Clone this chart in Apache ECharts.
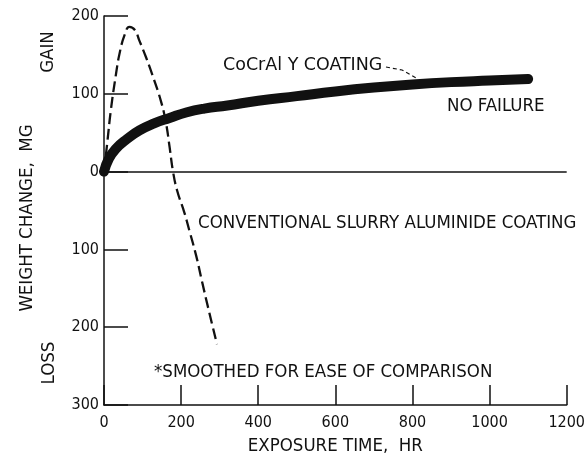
<!DOCTYPE html>
<html>
<head>
<meta charset="utf-8">
<script src="https://cdn.jsdelivr.net/npm/echarts@6/dist/echarts.min.js"></script>
<style>
html,body{margin:0;padding:0;background:#fff;}
#c{width:588px;height:463px;}
</style>
</head>
<body>
<div id="c"></div>
<script>
var xTicks = [0, 200, 400, 600, 800, 1000, 1200];
var yTicks = [-300, -200, -100, 0, 100, 200];

// CoCrAlY coating (exposure time hr, weight change mg)
var cocralyX = [0, 12, 30, 60, 92, 130, 170, 213, 260, 320, 400, 500, 600, 700, 800, 900, 1000, 1100];
var cocralyY = [0, 16, 29, 42, 53, 62, 69, 76, 81, 85, 91, 97, 103, 108, 112, 115, 117, 119];

// Conventional slurry aluminide coating
var slurryX = [0, 8, 18, 31, 40, 53, 66, 80, 92, 109, 125, 148, 161, 170, 179, 190, 208, 221, 239, 255, 273, 293];
var slurryY = [0, 35, 80, 125, 151, 175, 186, 182, 168, 147, 125, 90, 62, 32, 0, -25, -52, -75, -108, -143, -181, -222];

function pairs(xs, ys){ return xs.map(function(x,i){ return [x, ys[i]]; }); }

var FONT = "'Liberation Sans Narrow', 'DejaVu Sans Condensed', 'Liberation Sans', sans-serif";
var TF = '18.5px ' + FONT;
var chart = echarts.init(document.getElementById('c'), null, {renderer:'canvas'});
chart.setOption({
  animation: false,
  backgroundColor: '#fff',
  grid: {left: 104, right: 19, top: 16, bottom: 58, containLabel: false},
  xAxis: {
    type: 'value', min: xTicks[0], max: xTicks[xTicks.length-1], interval: 200,
    name: 'EXPOSURE TIME,  HR', nameLocation: 'middle', nameGap: 32,
    nameTextStyle: {fontFamily: FONT, fontSize: 18.5, color: '#111'},
    axisLine: {show: true, onZero: false, lineStyle: {color: '#111', width: 1.5}},
    axisTick: {show: true, inside: true, length: 20, lineStyle: {color: '#111', width: 1.5}},
    axisLabel: {fontFamily: FONT, fontSize: 16, color: '#111', margin: 10,
      formatter: function(v){ return String(v); }},
    splitLine: {show: false}
  },
  yAxis: {
    type: 'value', min: yTicks[0], max: yTicks[yTicks.length-1], interval: 100,
    axisLine: {show: true, onZero: false, lineStyle: {color: '#111', width: 1.5}},
    axisTick: {show: true, inside: true, length: 24, lineStyle: {color: '#111', width: 1.5}},
    axisLabel: {fontFamily: FONT, fontSize: 16, color: '#111', margin: 5,
      formatter: function(v){ return String(Math.abs(v)); }},
    splitLine: {show: false}
  },
  series: [
    {
      type: 'line', data: pairs(cocralyX, cocralyY), smooth: 0.5, symbol: 'none',
      lineStyle: {color: '#111', width: 10, cap: 'round', join: 'round'},
      markLine: {
        silent: true, symbol: 'none', label: {show: false},
        lineStyle: {color: '#111', width: 1.5, type: 'solid'},
        data: [{yAxis: 0}]
      }
    },
    {
      type: 'line', data: pairs(slurryX, slurryY), smooth: 0.45, symbol: 'none',
      lineStyle: {color: '#111', width: 2.3, type: [11, 5]}
    }
  ],
  graphic: [
    {type: 'text', x: 27, y: 218, rotation: Math.PI/2,
      style: {text: 'WEIGHT CHANGE,  MG', font: '18.5px ' + FONT, fill: '#111', align: 'center', verticalAlign: 'middle'}},
    {type: 'text', x: 48, y: 52, rotation: Math.PI/2,
      style: {text: 'GAIN', font: TF, fill: '#111', align: 'center', verticalAlign: 'middle'}},
    {type: 'text', x: 49, y: 363, rotation: Math.PI/2,
      style: {text: 'LOSS', font: TF, fill: '#111', align: 'center', verticalAlign: 'middle'}},
    {type: 'text', x: 223, y: 65, scaleX: 1.05,
      style: {text: 'CoCrAl Y COATING', font: TF, fill: '#111', verticalAlign: 'middle'}},
    {type: 'polyline', shape: {points: [[386, 67], [402, 70], [418, 79]]},
      style: {stroke: '#111', lineWidth: 1.2, lineDash: [4, 3], fill: null}},
    {type: 'text', x: 447, y: 106,
      style: {text: 'NO FAILURE', font: TF, fill: '#111', verticalAlign: 'middle'}},
    {type: 'text', x: 198, y: 223,
      style: {text: 'CONVENTIONAL SLURRY ALUMINIDE COATING', font: TF, fill: '#111', verticalAlign: 'middle'}},
    {type: 'text', x: 154, y: 372,
      style: {text: '*SMOOTHED FOR EASE OF COMPARISON', font: TF, fill: '#111', verticalAlign: 'middle'}}
  ]
});
</script>
</body>
</html>
